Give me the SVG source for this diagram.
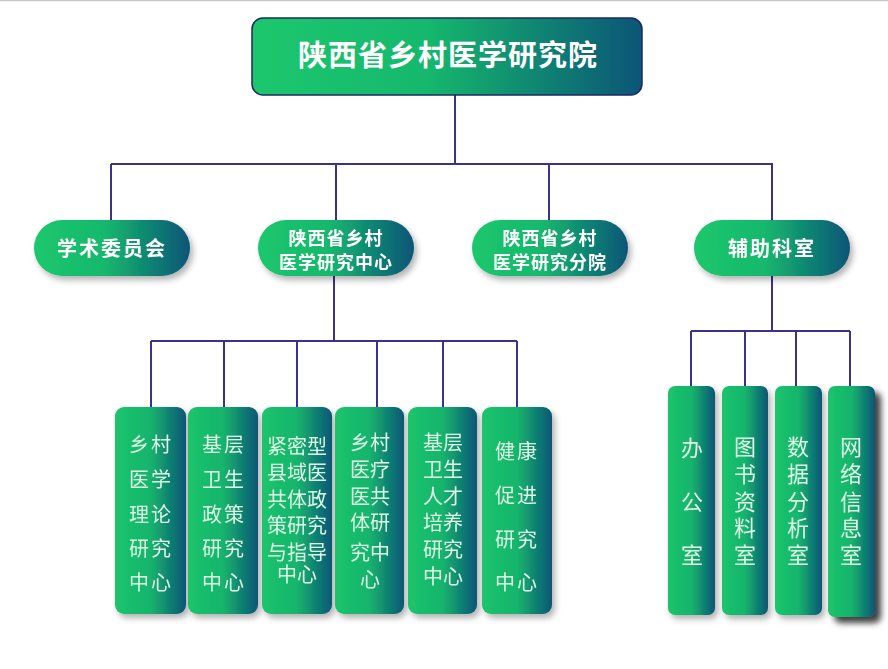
<svg xmlns="http://www.w3.org/2000/svg" width="888" height="669" viewBox="0 0 888 669">
<defs>
<linearGradient id="g" x1="0" y1="0" x2="1" y2="0">
<stop offset="0" stop-color="#1cc76c"/>
<stop offset="0.45" stop-color="#15b86d"/>
<stop offset="1" stop-color="#0b5577"/>
</linearGradient>
<linearGradient id="gb" x1="0" y1="0" x2="1" y2="0">
<stop offset="0" stop-color="#1bc46c"/>
<stop offset="0.5" stop-color="#16b46c"/>
<stop offset="1" stop-color="#0b5676"/>
</linearGradient>
<filter id="sh" x="-20%" y="-20%" width="150%" height="150%">
<feDropShadow dx="3" dy="4" stdDeviation="3" flood-color="#000" flood-opacity="0.3"/>
</filter>
<filter id="shd" x="-30%" y="-10%" width="170%" height="130%">
<feDropShadow dx="6" dy="6" stdDeviation="3" flood-color="#000" flood-opacity="0.75"/>
</filter>
</defs>
<style>
.ln{stroke:#3a3290;stroke-width:2;fill:none}
.t1{font-family:"Noto Sans CJK SC","Liberation Sans",sans-serif;font-weight:bold;fill:#fff;text-anchor:middle}
.t2{font-family:"Noto Sans CJK SC","Liberation Sans",sans-serif;font-weight:bold;fill:#fff;text-anchor:middle;font-size:18px;letter-spacing:1px}
.t3{font-family:"Noto Sans CJK SC",sans-serif;fill:#dcf7e6;text-anchor:middle;font-size:20px}
.t4{font-family:"Noto Sans CJK SC",sans-serif;fill:#dcf7e6;text-anchor:middle;font-size:22px}
</style>
<rect width="888" height="669" fill="#fff"/>
<line x1="0" y1="0.5" x2="888" y2="0.5" stroke="#c8c8c8" stroke-width="1.5"/>
<g id="connectors">
<path class="ln" d="M455 95V164M111 164H773M111 164V220M336 164V220M549 164V220M772 164V220"/>
<path class="ln" d="M334 276V341M151 341H517M151 341V408M224 341V408M297 341V408M377 341V408M443 341V408M517 341V408"/>
<path class="ln" d="M772 276V331M691 331H850M691 331V386M745 331V386M796 331V386M850 331V386"/>
</g>
<g id="root">
<rect x="252" y="18" width="390" height="77" rx="11" fill="url(#g)" stroke="#1c2a66" stroke-width="1.5"/>
<text class="t1" x="448" y="66" font-size="29" letter-spacing="1">陕西省乡村医学研究院</text>
</g>
<g id="n1" filter="url(#sh)">
<rect x="34" y="220" width="156" height="56" rx="28" fill="url(#g)"/>
<text class="t1" x="112" y="256" font-size="20" letter-spacing="2">学术委员会</text>
</g>
<g id="n2" filter="url(#sh)">
<rect x="258" y="220" width="156" height="56" rx="28" fill="url(#g)"/>
<text class="t2" x="336" y="245">陕西省乡村</text>
<text class="t2" x="336" y="269">医学研究中心</text>
</g>
<g id="n3" filter="url(#sh)">
<rect x="472" y="220" width="156" height="56" rx="28" fill="url(#g)"/>
<text class="t2" x="550" y="245">陕西省乡村</text>
<text class="t2" x="550" y="269">医学研究分院</text>
</g>
<g id="n4" filter="url(#sh)">
<rect x="694" y="220" width="156" height="56" rx="28" fill="url(#g)"/>
<text class="t1" x="772" y="256" font-size="20" letter-spacing="2">辅助科室</text>
</g>
<g id="c1" filter="url(#sh)">
<rect x="115" y="407" width="71" height="207" rx="9" fill="url(#gb)"/>
<text class="t3" x="151" y="452" letter-spacing="2">乡村</text>
<text class="t3" x="151" y="487" letter-spacing="2">医学</text>
<text class="t3" x="151" y="522" letter-spacing="2">理论</text>
<text class="t3" x="151" y="556" letter-spacing="2">研究</text>
<text class="t3" x="151" y="590" letter-spacing="2">中心</text>
</g>
<g id="c2" filter="url(#sh)">
<rect x="188" y="407" width="70" height="207" rx="9" fill="url(#gb)"/>
<text class="t3" x="224" y="452" letter-spacing="2">基层</text>
<text class="t3" x="224" y="487" letter-spacing="2">卫生</text>
<text class="t3" x="224" y="522" letter-spacing="2">政策</text>
<text class="t3" x="224" y="556" letter-spacing="2">研究</text>
<text class="t3" x="224" y="590" letter-spacing="2">中心</text>
</g>
<g id="c3" filter="url(#sh)">
<rect x="262" y="407" width="70" height="207" rx="9" fill="url(#gb)"/>
<text class="t3" x="297" y="454">紧密型</text>
<text class="t3" x="297" y="480">县域医</text>
<text class="t3" x="297" y="507">共体政</text>
<text class="t3" x="297" y="533">策研究</text>
<text class="t3" x="297" y="560">与指导</text>
<text class="t3" x="297" y="582">中心</text>
</g>
<g id="c4" filter="url(#sh)">
<rect x="335" y="407" width="69" height="207" rx="9" fill="url(#gb)"/>
<text class="t3" x="370" y="450">乡村</text>
<text class="t3" x="370" y="477">医疗</text>
<text class="t3" x="370" y="504">医共</text>
<text class="t3" x="370" y="530">体研</text>
<text class="t3" x="370" y="560">究中</text>
<text class="t3" x="370" y="587">心</text>
</g>
<g id="c5" filter="url(#sh)">
<rect x="408" y="407" width="69" height="207" rx="9" fill="url(#gb)"/>
<text class="t3" x="443" y="450">基层</text>
<text class="t3" x="443" y="477">卫生</text>
<text class="t3" x="443" y="504">人才</text>
<text class="t3" x="443" y="530">培养</text>
<text class="t3" x="443" y="557">研究</text>
<text class="t3" x="443" y="584">中心</text>
</g>
<g id="c6" filter="url(#sh)">
<rect x="482" y="407" width="70" height="207" rx="9" fill="url(#gb)"/>
<text class="t3" x="517" y="459" letter-spacing="2">健康</text>
<text class="t3" x="517" y="503" letter-spacing="2">促进</text>
<text class="t3" x="517" y="547" letter-spacing="2">研究</text>
<text class="t3" x="517" y="590" letter-spacing="2">中心</text>
</g>
<g id="d1" filter="url(#sh)">
<rect x="668" y="386" width="47" height="229" rx="7" fill="url(#gb)"/>
<text class="t4" x="692" y="456">办</text>
<text class="t4" x="692" y="510">公</text>
<text class="t4" x="692" y="563">室</text>
</g>
<g id="d2" filter="url(#sh)">
<rect x="722" y="386" width="46" height="229" rx="7" fill="url(#gb)"/>
<text class="t4" x="745" y="455">图</text>
<text class="t4" x="745" y="482">书</text>
<text class="t4" x="745" y="510">资</text>
<text class="t4" x="745" y="536">料</text>
<text class="t4" x="745" y="563">室</text>
</g>
<g id="d3" filter="url(#sh)">
<rect x="775" y="386" width="47" height="229" rx="7" fill="url(#gb)"/>
<text class="t4" x="798" y="455">数</text>
<text class="t4" x="798" y="482">据</text>
<text class="t4" x="798" y="510">分</text>
<text class="t4" x="798" y="536">析</text>
<text class="t4" x="798" y="563">室</text>
</g>
<g id="d4" filter="url(#shd)">
<rect x="828" y="386" width="47" height="231" rx="7" fill="url(#gb)"/>
<text class="t4" x="851" y="455">网</text>
<text class="t4" x="851" y="482">络</text>
<text class="t4" x="851" y="510">信</text>
<text class="t4" x="851" y="536">息</text>
<text class="t4" x="851" y="563">室</text>
</g>
</svg>
